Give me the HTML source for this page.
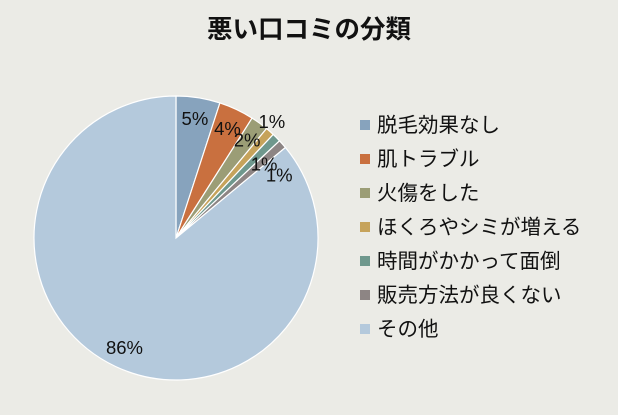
<!DOCTYPE html>
<html><head><meta charset="utf-8"><style>
html,body{margin:0;padding:0;background:#ebebe6;}
body{width:618px;height:415px;overflow:hidden;position:relative;font-family:"Liberation Sans","Noto Sans CJK JP",sans-serif;}
#title{position:absolute;left:0;width:618px;top:9px;text-align:center;font-size:25.5px;font-weight:bold;color:#111;}
.leg{position:absolute;left:360px;font-size:20.5px;color:#111;height:24px;line-height:24px;white-space:nowrap;}
.leg span.sw{display:inline-block;width:10px;height:10px;margin-right:7px;vertical-align:2px;}
</style></head><body>
<div id="title">悪い口コミの分類</div>
<svg id="chart" width="618" height="415" style="position:absolute;left:0;top:0"></svg>
<div id="legend"></div>
<script>
const categories = ["脱毛効果なし","肌トラブル","火傷をした","ほくろやシミが増える","時間がかかって面倒","販売方法が良くない","その他"];
const values = [5,4,2,1,1,1,86];
const labels = ["5%","4%","2%","1%","1%","1%","86%"];
const colors = ["#87a3bd","#c9703f","#9b9d76","#c6a35b","#6f988d","#8d8584","#b4c9dc"];
const nudgeR = [0,0,0,30,-6,0,0];
const nudgeA = [0,0,0,-2,5,10,0];
const cx=176, cy=238, R=142, LR=121;
const svg=document.getElementById('chart');
const NS="http://www.w3.org/2000/svg";
const total=values.reduce((a,b)=>a+b,0);
function pt(angDeg,r){const a=(angDeg-90)*Math.PI/180;return [cx+r*Math.cos(a),cy+r*Math.sin(a)];}
let start=0;
values.forEach((v,i)=>{
  const sweep=v/total*360, end=start+sweep;
  const p1=pt(start,R),p2=pt(end,R);
  const path=document.createElementNS(NS,'path');
  path.setAttribute('d',`M${cx},${cy} L${p1[0]},${p1[1]} A${R},${R} 0 ${sweep>180?1:0} 1 ${p2[0]},${p2[1]} Z`);
  path.setAttribute('fill',colors[i]);
  path.setAttribute('stroke','#ffffff');
  path.setAttribute('stroke-width','1.2');
  
  
  svg.appendChild(path);
  start=end;
});
start=0;
values.forEach((v,i)=>{
  const sweep=v/total*360, mid=start+sweep/2+nudgeA[i];
  const p=pt(mid,LR+nudgeR[i]);
  const t=document.createElementNS(NS,'text');
  t.setAttribute('x',p[0]);t.setAttribute('y',p[1]);
  t.setAttribute('text-anchor','middle');t.setAttribute('dominant-baseline','central');
  t.setAttribute('font-size','18.5');t.setAttribute('fill','#111');
  t.setAttribute('font-family','"Liberation Sans","Noto Sans CJK JP",sans-serif');
  t.textContent=labels[i];
  
  
  svg.appendChild(t);
  start+=sweep;
});
const leg=document.getElementById('legend');
categories.forEach((c,i)=>{
  const d=document.createElement('div');
  d.className='leg';d.style.top=(114+i*34)+'px';
  
  
  const s=document.createElement('span');s.className='sw';s.style.background=colors[i];
  
  
  d.appendChild(s);d.appendChild(document.createTextNode(c));
  leg.appendChild(d);
});
</script>
</body></html>
